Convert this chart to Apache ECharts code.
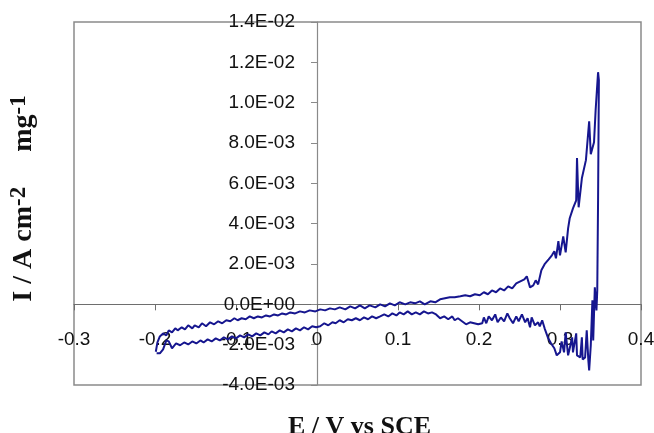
<!DOCTYPE html>
<html>
<head>
<meta charset="utf-8">
<script src="https://cdn.jsdelivr.net/npm/echarts@6/dist/echarts.min.js"></script>
<style>
  html, body { margin: 0; padding: 0; background: #fff; }
  #chart { width: 654px; height: 433px; }
</style>
</head>
<body>
<div id="chart"></div>
<script>
// Cyclic voltammogram: potential E (V vs SCE) and current density I (in 1E-03 A cm-2 mg-1)
// Forward (anodic) scan from -0.2 V up to the switching potential
const forwardScan = [
  [-0.199, -2.35], [-0.197, -1.89], [-0.194, -1.59], [-0.190, -1.44], [-0.186, -1.54],
  [-0.183, -1.29], [-0.179, -1.39], [-0.175, -1.19], [-0.172, -1.29], [-0.167, -1.14],
  [-0.163, -1.24], [-0.159, -1.04], [-0.154, -1.19], [-0.151, -1.04], [-0.146, -1.14],
  [-0.142, -0.94], [-0.137, -1.09], [-0.132, -0.89], [-0.127, -0.99], [-0.122, -0.84],
  [-0.117, -0.94], [-0.112, -0.79], [-0.107, -0.84], [-0.102, -0.69], [-0.098, -0.79],
  [-0.093, -0.69], [-0.088, -0.74], [-0.083, -0.60], [-0.078, -0.69], [-0.073, -0.60],
  [-0.068, -0.65], [-0.063, -0.55], [-0.058, -0.60], [-0.053, -0.50], [-0.048, -0.55],
  [-0.043, -0.45], [-0.038, -0.50], [-0.033, -0.40], [-0.027, -0.45], [-0.021, -0.35],
  [-0.015, -0.40], [-0.009, -0.30], [-0.002, -0.35], [0.004, -0.25], [0.010, -0.30],
  [0.016, -0.20], [0.022, -0.25], [0.028, -0.15], [0.035, -0.25], [0.041, -0.10],
  [0.047, -0.20], [0.053, -0.05], [0.059, -0.20], [0.065, -0.05], [0.072, -0.15],
  [0.078, 0.00], [0.084, -0.10], [0.090, 0.05], [0.096, -0.05], [0.102, 0.10],
  [0.109, 0.00], [0.115, 0.10], [0.121, 0.05], [0.127, 0.15], [0.133, 0.00],
  [0.140, 0.15], [0.146, 0.10], [0.152, 0.25], [0.158, 0.30], [0.164, 0.35],
  [0.170, 0.35], [0.177, 0.40], [0.183, 0.45], [0.189, 0.40], [0.195, 0.50],
  [0.201, 0.45], [0.206, 0.60], [0.211, 0.50], [0.216, 0.69], [0.221, 0.60],
  [0.226, 0.79], [0.231, 0.69], [0.236, 0.89], [0.241, 0.79], [0.246, 1.04],
  [0.251, 1.14], [0.256, 1.24], [0.259, 1.39], [0.263, 0.84], [0.267, 0.94],
  [0.270, 1.19], [0.273, 0.99], [0.277, 1.69], [0.281, 1.99], [0.286, 2.23],
  [0.290, 2.43], [0.293, 2.63], [0.295, 2.28], [0.298, 3.13], [0.300, 2.43],
  [0.304, 3.37], [0.307, 2.58], [0.310, 3.77], [0.312, 4.27], [0.316, 4.76],
  [0.320, 5.16], [0.321, 7.25], [0.323, 4.81], [0.327, 6.25], [0.332, 7.15],
  [0.336, 9.08], [0.338, 7.44], [0.342, 8.04], [0.344, 9.63], [0.347, 11.51],
  [0.348, 11.12]
];

// Reverse (cathodic) scan back to -0.2 V
const reverseScan = [
  [0.347, 5.16], [0.346, 0.69], [0.345, -0.30], [0.343, 0.84], [0.341, -1.79],
  [0.340, 0.20], [0.338, -2.03], [0.336, -3.28], [0.335, -2.78], [0.333, -1.29],
  [0.331, -2.63], [0.328, -2.73], [0.327, -1.64], [0.325, -2.63], [0.321, -2.53],
  [0.320, -1.44], [0.316, -2.38], [0.315, -1.64], [0.312, -2.18], [0.310, -2.53],
  [0.307, -1.39], [0.305, -2.38], [0.302, -1.84], [0.300, -2.38], [0.296, -2.53],
  [0.293, -2.18], [0.289, -1.94], [0.285, -1.64], [0.281, -1.19], [0.278, -0.79],
  [0.275, -1.09], [0.273, -0.89], [0.269, -1.04], [0.265, -0.65], [0.263, -1.14],
  [0.260, -0.69], [0.257, -0.89], [0.253, -0.50], [0.249, -0.84], [0.246, -0.60],
  [0.242, -0.94], [0.238, -0.69], [0.235, -0.45], [0.231, -0.84], [0.227, -0.65],
  [0.223, -0.89], [0.220, -0.50], [0.216, -0.79], [0.212, -0.60], [0.209, -0.94],
  [0.206, -0.65], [0.204, -0.94], [0.199, -0.99], [0.194, -0.94], [0.189, -0.89],
  [0.184, -0.99], [0.179, -0.84], [0.174, -0.69], [0.170, -0.79], [0.167, -0.60],
  [0.162, -0.74], [0.157, -0.60], [0.152, -0.69], [0.147, -0.50], [0.142, -0.40],
  [0.137, -0.45], [0.132, -0.35], [0.127, -0.50], [0.122, -0.40], [0.117, -0.50],
  [0.112, -0.35], [0.107, -0.50], [0.102, -0.40], [0.098, -0.55], [0.093, -0.45],
  [0.088, -0.60], [0.083, -0.50], [0.078, -0.60], [0.073, -0.69], [0.068, -0.60],
  [0.063, -0.74], [0.058, -0.65], [0.053, -0.79], [0.048, -0.69], [0.043, -0.79],
  [0.038, -0.74], [0.033, -0.89], [0.028, -0.79], [0.023, -0.94], [0.019, -0.89],
  [0.014, -1.04], [0.009, -0.94], [0.004, -1.09], [-0.001, -1.14], [-0.006, -1.09],
  [-0.011, -1.24], [-0.016, -1.14], [-0.021, -1.29], [-0.026, -1.19], [-0.031, -1.34],
  [-0.036, -1.24], [-0.041, -1.39], [-0.046, -1.29], [-0.051, -1.44], [-0.056, -1.34],
  [-0.060, -1.49], [-0.065, -1.39], [-0.070, -1.54], [-0.075, -1.44], [-0.080, -1.59],
  [-0.085, -1.49], [-0.090, -1.64], [-0.095, -1.54], [-0.100, -1.69], [-0.105, -1.59],
  [-0.110, -1.74], [-0.115, -1.64], [-0.120, -1.79], [-0.125, -1.69], [-0.130, -1.84],
  [-0.135, -1.74], [-0.140, -1.89], [-0.144, -1.79], [-0.149, -1.94], [-0.154, -1.84],
  [-0.159, -1.99], [-0.164, -1.89], [-0.169, -2.03], [-0.174, -1.94], [-0.179, -2.18],
  [-0.183, -1.84], [-0.186, -1.79], [-0.190, -2.23], [-0.194, -2.43], [-0.198, -2.43]
];

// Axis ranges and tick steps
const xRange = [-0.3, 0.4];
const xStep = 0.1;
const yRange = [-4, 14];   // in units of 1E-03
const yStep = 2;

const axisGrey = '#8a8a8a';
const curveColor = '#16168f';

// Plot box
const gridBox = { left: 74, top: 22, width: 567, height: 363 };

// 1E-03 units -> "1.4E-02" style labels
function sciLabel(v) {
  const s = (v * 1e-3).toExponential(1).toUpperCase();
  return s.replace(/E([+-])(\d)$/, 'E$10$2');
}

// Shift each axis from the grid edge onto the other axis' zero
const yAxisShift = -gridBox.width * (0 - xRange[0]) / (xRange[1] - xRange[0]);
const xAxisShift = -gridBox.height * (0 - yRange[0]) / (yRange[1] - yRange[0]);

const chart = echarts.init(document.getElementById('chart'), null, { renderer: 'canvas' });

chart.setOption({
  animation: false,
  backgroundColor: '#ffffff',
  grid: {
    left: gridBox.left, top: gridBox.top, width: gridBox.width, height: gridBox.height,
    show: true, borderColor: axisGrey, borderWidth: 1.5,
    containLabel: false,
    outerBoundsMode: 'none'
  },
  xAxis: {
    type: 'value',
    position: 'bottom',
    offset: xAxisShift,
    min: xRange[0], max: xRange[1], interval: xStep,
    axisLine: { show: true, onZero: false, lineStyle: { color: '#6e6e6e', width: 1.2 } },
    axisTick: { show: true, length: 6, lineStyle: { color: '#6e6e6e' } },
    splitLine: { show: false },
    axisLabel: {
      margin: 26, color: '#111', fontSize: 19, fontFamily: 'Liberation Sans',
      formatter: v => String(Math.round(v * 10) / 10)
    },
    name: 'E / V vs SCE',
    nameLocation: 'middle',
    nameGap: 110,
    nameTextStyle: {
      fontFamily: 'Liberation Serif', fontWeight: 'bold', fontSize: 26, color: '#111',
      padding: [0, 0, 0, 4]
    }
  },
  yAxis: {
    type: 'value',
    position: 'left',
    offset: yAxisShift,
    min: yRange[0], max: yRange[1], interval: yStep,
    axisLine: { show: true, onZero: false, lineStyle: { color: axisGrey, width: 1.2 } },
    axisTick: { show: true, length: 6, lineStyle: { color: axisGrey } },
    splitLine: { show: false },
    axisLabel: {
      margin: 22, color: '#111', fontSize: 19, fontFamily: 'Liberation Sans',
      formatter: sciLabel
    },
    name: '{a|I / A cm}{s|-2}{a|     mg}{s|-1}',
    nameLocation: 'middle',
    nameRotate: 90,
    nameGap: 279,
    nameTextStyle: {
      color: '#111',
      padding: [0, 0, 0, 10],
      rich: {
        a: { fontFamily: 'Liberation Serif', fontWeight: 'bold', fontSize: 28, lineHeight: 30, verticalAlign: 'bottom' },
        s: { fontFamily: 'Liberation Serif', fontWeight: 'bold', fontSize: 23, lineHeight: 30, verticalAlign: 'top' }
      }
    }
  },
  series: [{
    type: 'line',
    data: forwardScan.concat(reverseScan),
    showSymbol: false,
    smooth: false,
    lineStyle: { color: curveColor, width: 2 },
    clip: true
  }]
});
</script>
</body>
</html>
